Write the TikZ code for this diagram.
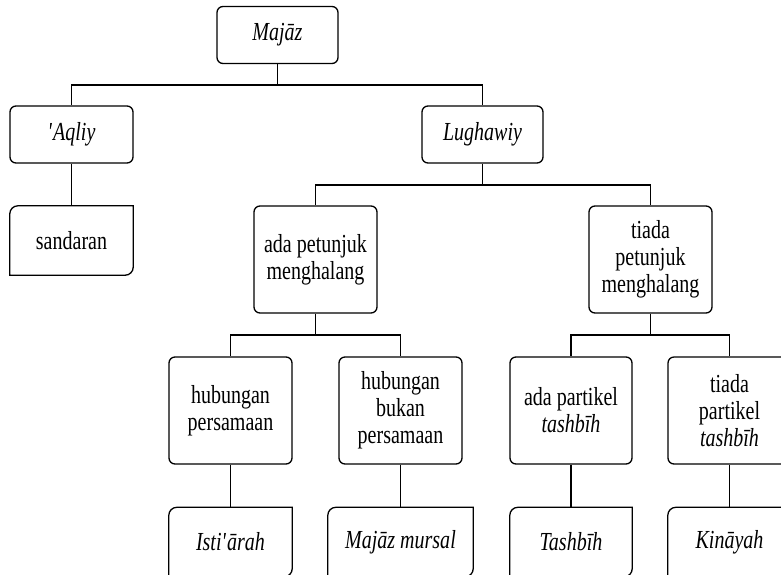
\documentclass[tikz,border=0pt]{standalone}
\usepackage{fontspec}
\setmainfont{Liberation Serif}[FakeStretch=0.77]

\tikzset{
  catbox/.style={draw,line width=1.3pt,rounded corners=6pt,align=center,
    minimum width=123pt,minimum height=57pt,inner sep=2pt},
  tallbox/.style={catbox,minimum height=107pt},
  leafbox/.style={align=center,minimum width=123pt,minimum height=69pt,inner sep=2pt},
  frame/.style={line width=1.3pt},
  branch/.style={line width=1.1pt}
}
% leaf outline: round top left and bottom right corners only
\newcommand\leafframe[1]{%
  \draw[frame] (#1.south west) -- ([yshift=-8pt]#1.north west)
    arc[start angle=180,end angle=90,radius=8pt] -- (#1.north east)
    -- ([yshift=8pt]#1.south east)
    arc[start angle=0,end angle=-90,radius=8pt] -- cycle;}

\begin{document}
\begin{tikzpicture}[x=1pt,y=1pt,every node/.style={font=\fontsize{26}{27}\selectfont}]
  \useasboundingbox (0,0) rectangle (781,-574);
  % levels
  \node[catbox,minimum width=121pt] (majaz) at (277.5,-35) {\textit{Majāz}};
  \node[catbox] (aqliy) at (71.5,-134.5) {\textit{\textquotesingle Aqliy}};
  \node[catbox,minimum width=121pt] (lughawiy) at (482.5,-134.5) {\textit{Lughawiy}};
  \node[leafbox] (sandaran) at (71.5,-240.5) {sandaran};
  \node[tallbox] (adapet) at (315.5,-259.5) {ada petunjuk\\menghalang};
  \node[tallbox] (tiadapet) at (650.5,-259.5) {tiada\\petunjuk\\menghalang};
  \node[tallbox] (hubsama) at (230.5,-410.5) {hubungan\\persamaan};
  \node[tallbox] (hubbukan) at (400.5,-410.5) {hubungan\\bukan\\persamaan};
  \node[tallbox,minimum width=122pt] (adapart) at (571,-410.5) {ada partikel\\\textit{tashbīh}};
  \node[tallbox] (tiadapart) at (729.5,-410.5) {tiada\\partikel\\\textit{tashbīh}};
  \node[leafbox] (istiarah) at (230.5,-542) {\textit{Isti\textquotesingle ārah}};
  \node[leafbox,minimum width=145pt] (mursal) at (400.5,-542) {\textit{Majāz mursal}};
  \node[leafbox,minimum width=122pt] (tashbih) at (571,-542) {\textit{Tashbīh}};
  \node[leafbox] (kinayah) at (729.5,-542) {\textit{Kināyah}};
  \leafframe{sandaran}
  \leafframe{istiarah}
  \leafframe{mursal}
  \leafframe{tashbih}
  \leafframe{kinayah}
  % buses
  \coordinate (b1) at (277.5,-85);
  \coordinate (b2) at (482.5,-185);
  \coordinate (b3) at (315.5,-335);
  \coordinate (b4) at (650.5,-335);
  \draw[branch] (majaz) -- (b1) -| (aqliy);
  \draw[branch] (b1) -| (lughawiy);
  \draw[branch] (lughawiy) -- (b2) -| (adapet);
  \draw[branch] (b2) -| (tiadapet);
  \draw[branch] (adapet) -- (b3) -| (hubsama);
  \draw[branch] (b3) -| (hubbukan);
  \draw[branch] (tiadapet) -- (b4) -| (adapart);
  \draw[branch] (b4) -| (tiadapart);
  \draw[branch] (aqliy) -- (sandaran);
  \draw[branch] (hubsama) -- (istiarah);
  \draw[branch] (hubbukan) -- (mursal);
  \draw[branch] (adapart) -- (tashbih);
  \draw[branch] (tiadapart) -- (kinayah);
\end{tikzpicture}
\end{document}
